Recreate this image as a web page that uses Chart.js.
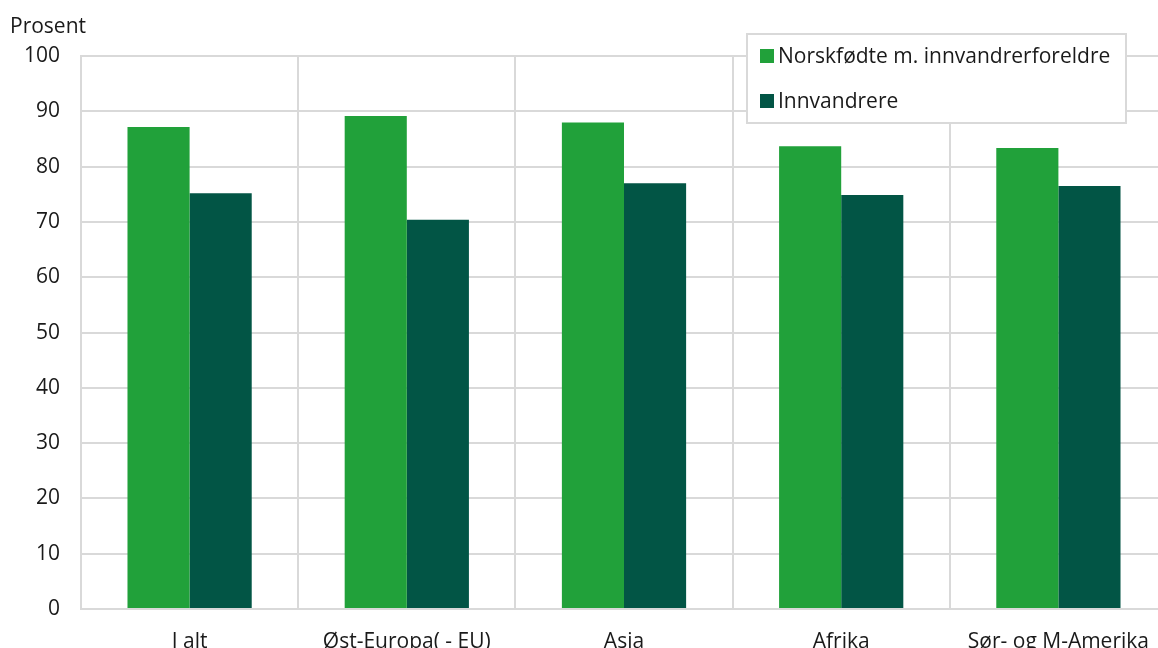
<!DOCTYPE html>
<html>
<head>
<meta charset="utf-8">
<script src="https://cdn.jsdelivr.net/npm/chart.js@4/dist/chart.umd.min.js"></script>
<style>
  html, body { margin: 0; padding: 0; background: #ffffff; overflow: hidden; }
  #wrap { width: 1158px; height: 648px; overflow: hidden; position: relative; }
  canvas { display: block; }
</style>
</head>
<body>
<div id="wrap"><canvas id="c" width="1180" height="680"></canvas></div>
<script>
const categories = ["I alt", "Øst-Europa( - EU)", "Asia", "Afrika", "Sør- og M-Amerika"];
const seriesNames = ["Norskfødte m. innvandrerforeldre", "Innvandrere"];
const norskfodte = [87.2, 89.2, 88.0, 83.7, 83.4];
const innvandrere = [75.2, 70.4, 77.0, 74.9, 76.5];
const yTicks = [0, 10, 20, 30, 40, 50, 60, 70, 80, 90, 100];
const yTitle = "Prosent";

const GREEN = "#21a13a";
const DARK = "#025545";
const GRID = "#d9d9d9";
const TEXT = "#1a1a1a";
const FONT = "'Open Sans', 'Noto Sans', sans-serif";
const FS = 21;

const boxLegend = {
  id: "boxLegend",
  afterDraw(chart) {
    const ctx = chart.ctx;
    const x = 747, y = 34, w = 379, h = 89;
    ctx.save();
    ctx.fillStyle = "#ffffff";
    ctx.fillRect(x, y, w, h);
    ctx.strokeStyle = GRID;
    ctx.lineWidth = 2;
    ctx.strokeRect(x, y, w, h);
    ctx.font = FS + "px " + FONT;
    ctx.textBaseline = "middle";
    ctx.textAlign = "left";
    const rows = [57, 102];
    chart.data.datasets.forEach((ds, i) => {
      const cy = rows[i];
      ctx.fillStyle = ds.backgroundColor;
      ctx.fillRect(760, cy - 8, 14, 14);
      ctx.fillStyle = TEXT;
      ctx.fillText(ds.label, 778, cy);
    });
    ctx.restore();
  }
};

new Chart(document.getElementById("c"), {
  type: "bar",
  data: {
    labels: categories,
    datasets: [
      { label: seriesNames[0], data: norskfodte, backgroundColor: GREEN, borderWidth: 0 },
      { label: seriesNames[1], data: innvandrere, backgroundColor: DARK, borderWidth: 0 }
    ]
  },
  options: {
    responsive: false,
    animation: false,
    layout: { padding: { left: 10, right: 13, top: 0, bottom: 0 } },
    datasets: { bar: { barPercentage: 1.0, categoryPercentage: 0.572 } },
    plugins: {
      legend: { display: false },
      tooltip: { enabled: false },
      title: {
        display: true,
        text: yTitle,
        align: "start",
        color: TEXT,
        font: { family: FONT, size: FS, weight: "normal" },
        padding: { top: 14, bottom: 17 }
      }
    },
    scales: {
      x: {
        grid: { color: GRID, lineWidth: 2, drawTicks: false, offset: true },
        border: { color: GRID, width: 2 },
        ticks: { color: TEXT, font: { family: FONT, size: FS }, padding: 20, maxRotation: 0, autoSkip: false },
        afterFit(scale) { scale.height = 71; }
      },
      y: {
        min: 0,
        max: 100,
        afterBuildTicks(scale) { scale.ticks = yTicks.map(v => ({ value: v })); },
        grid: { color: GRID, lineWidth: 2, drawTicks: false },
        border: { color: GRID, width: 2 },
        ticks: { color: TEXT, font: { family: FONT, size: FS }, padding: 21 },
        afterFit(scale) { scale.width = 71; }
      }
    }
  },
  plugins: [boxLegend]
});
</script>
</body>
</html>
